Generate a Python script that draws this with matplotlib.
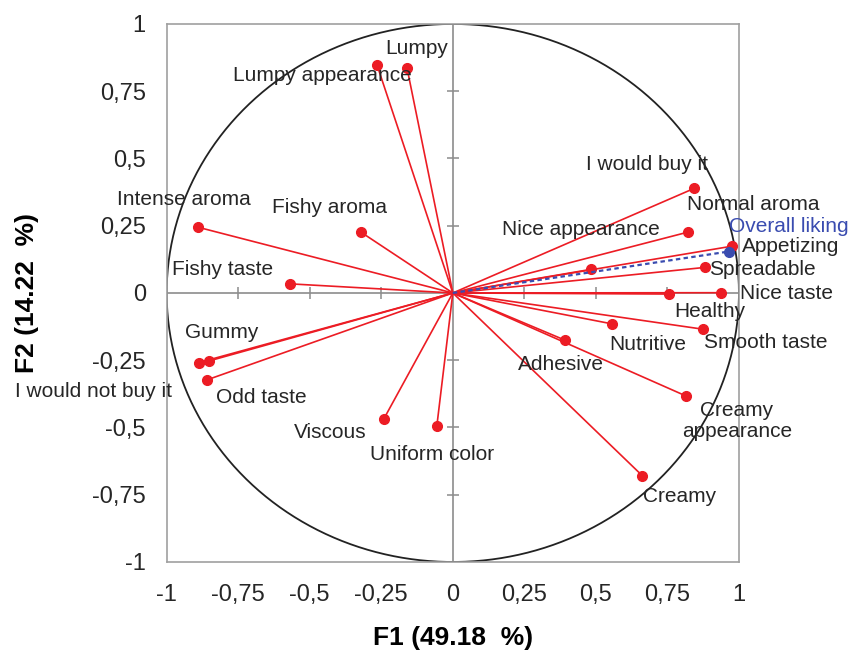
import matplotlib
matplotlib.use("Agg")
import matplotlib.pyplot as plt
import numpy as np

plt.rcParams["font.family"] = ["Liberation Sans", "DejaVu Sans"]

# Variable loadings on the first two factors
variables = ["Lumpy appearance", "Lumpy", "Intense aroma", "Fishy aroma", "Fishy taste",
             "I would not buy it", "Gummy", "Odd taste", "Viscous", "Uniform color",
             "Adhesive", "Nutritive", "Creamy\nappearance", "Creamy", "Smooth taste",
             "Healthy", "Nice taste", "Spreadable", "Appetizing", "Normal aroma",
             "Nice appearance", "I would buy it"]
f1 = [-0.265, -0.160, -0.889, -0.321, -0.570,
      -0.888, -0.853, -0.859, -0.241, -0.056,
      0.391, 0.557, 0.815, 0.662, 0.876,
      0.755, 0.938, 0.881, 0.976, 0.821,
      0.484, 0.844]
f2 = [0.848, 0.836, 0.244, 0.226, 0.034,
      -0.259, -0.253, -0.323, -0.468, -0.496,
      -0.175, -0.115, -0.383, -0.679, -0.135,
      -0.004, 0.001, 0.095, 0.174, 0.226,
      0.088, 0.389]

# Supplementary variable
supp_name = "Overall liking"
supp_f1 = 0.964
supp_f2 = 0.154

axis_ticks = [-1, -0.75, -0.5, -0.25, 0, 0.25, 0.5, 0.75, 1]
tick_labels = ["-1", "-0,75", "-0,5", "-0,25", "0", "0,25", "0,5", "0,75", "1"]
xlabel = "F1 (49.18  %)"
ylabel = "F2 (14.22  %)"

# label offsets in pixels (dx, dy) from each point
label_offsets = [(-55, -11), (10, 20), (-15, 28), (-31, 25), (-67, 14),
                 (-105, -29), (13, 29), (54, -18), (-54, -14), (-5, -28),
                 (-4, -24), (36, -21), (51, -25), (37, -21), (62, -13),
                 (41, -17), (65, -1), (57, -2), (59, 0), (66, 28),
                 (-10, 40), (-47, 24)]
supp_offset = (60, 25)

RED = "#ec1c24"
BLUE = "#3a4cb0"
TEXT = "#262626"

fig = plt.figure(figsize=(8.53, 6.53), dpi=100)
ax = fig.add_axes([0.1954, 0.1394, 0.6709, 0.8239])
ax.set_xlim(-1, 1)
ax.set_ylim(-1, 1)

# correlation circle
theta = np.linspace(0, 2 * np.pi, 400)
ax.plot(np.cos(theta), np.sin(theta), color="#222222", lw=1.3, zorder=2)

# zero axes with small cross ticks
ax.axhline(0, color="#8c8c8c", lw=1.2, zorder=1)
ax.axvline(0, color="#8c8c8c", lw=1.2, zorder=1)
inner = [t for t in axis_ticks if t not in (-1, 0, 1)]
ax.plot(inner, [0] * len(inner), ls="none", marker="|", ms=8, mew=1.1, color="#8c8c8c", zorder=1)
ax.plot([0] * len(inner), inner, ls="none", marker="_", ms=8, mew=1.1, color="#8c8c8c", zorder=1)

# loading vectors
for x, y in zip(f1, f2):
    ax.plot([0, x], [0, y], color=RED, lw=1.2, zorder=3)
ax.plot(f1, f2, ls="none", marker="o", ms=7, color=RED, zorder=4)

ax.plot([0, supp_f1], [0, supp_f2], color=BLUE, lw=1.6, ls=(0, (2, 1.5)), zorder=5)
ax.plot([supp_f1], [supp_f2], ls="none", marker="o", ms=7, color=BLUE, zorder=6)

for name, x, y, (dx, dy) in zip(variables, f1, f2, label_offsets):
    ax.annotate(name, (x, y), xytext=(dx, dy), textcoords="offset pixels",
                ha="center", va="center", fontsize=15, color=TEXT,
                linespacing=1.15, zorder=7, annotation_clip=False)
ax.annotate(supp_name, (supp_f1, supp_f2), xytext=supp_offset, textcoords="offset pixels",
            ha="center", va="center", fontsize=15, color=BLUE, zorder=7,
            annotation_clip=False)

ax.set_xticks(axis_ticks)
ax.set_xticklabels(tick_labels)
ax.set_yticks(axis_ticks)
ax.set_yticklabels(tick_labels)
ax.tick_params(length=0, labelsize=17, colors=TEXT)
ax.tick_params(axis="x", pad=16)
ax.tick_params(axis="y", pad=15)
for s in ax.spines.values():
    s.set_color("#a0a0a0")
    s.set_linewidth(1.2)

ax.set_xlabel(xlabel, fontsize=19, fontweight="bold", color="black", labelpad=14)
ax.set_ylabel(ylabel, fontsize=19, fontweight="bold", color="black", labelpad=38)

fig.savefig("out.png", dpi=100)
